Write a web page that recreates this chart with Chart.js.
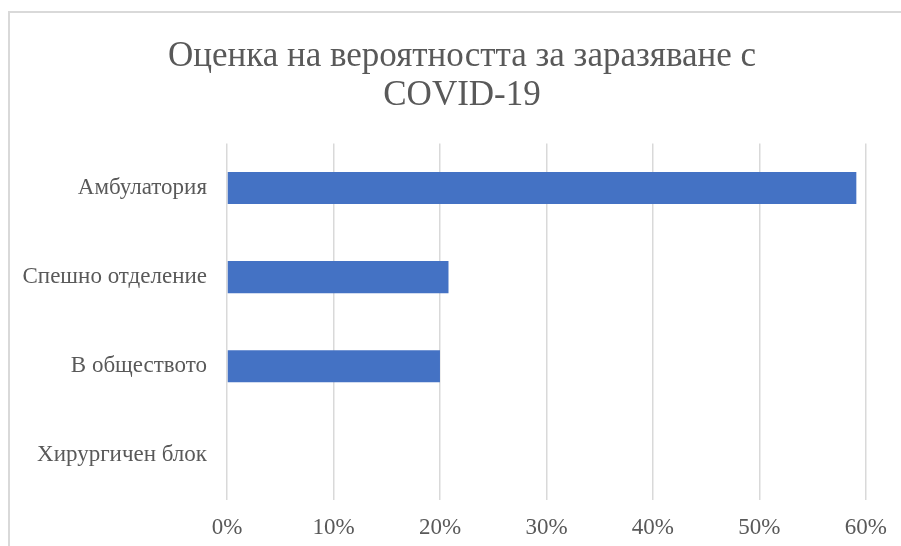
<!DOCTYPE html>
<html>
<head>
<meta charset="utf-8">
<script src="https://cdn.jsdelivr.net/npm/chart.js@4.4.0/dist/chart.umd.min.js"></script>
<style>
  html, body { margin: 0; padding: 0; background: #fff; }
  #wrap { position: relative; width: 901px; height: 546px; }
  #frame {
    position: absolute; left: 8px; top: 11px; right: 0; bottom: 0;
    border-top: 2px solid #d9d9d9; border-left: 2px solid #d9d9d9;
    pointer-events: none;
  }
  canvas { position: absolute; left: 0; top: 0; }
</style>
</head>
<body>
<div id="wrap">
  <canvas id="chart" width="901" height="546"></canvas>
  <div id="frame"></div>
</div>
<script>
// --- Data ---
const categories = ['Амбулатория', 'Спешно отделение', 'В обществото', 'Хирургичен блок'];
const shares = [59.1, 20.8, 20.0, 0];
const tickValues = [0, 10, 20, 30, 40, 50, 60];
const titleLines = ['Оценка на вероятността за заразяване с', 'COVID-19'];

const textColor = '#595959';
const serif = "'Liberation Serif', 'Times New Roman', serif";

// title sits centred on the whole frame, not on the padded area
const centerTitle = {
    id: 'centerTitle',
    afterLayout(chart) {
        if (chart.titleBlock) chart.titleBlock.left = 57;
    }
};

// --- Chart ---
const ctx = document.getElementById('chart').getContext('2d');
const myChart = new Chart(ctx, {
    type: 'bar',
    data: {
        labels: categories,
        datasets: [{
            data: shares,
            backgroundColor: '#4472C4',
            borderWidth: 0,
            categoryPercentage: 1,
            barPercentage: 0.36
        }]
    },
    plugins: [centerTitle],
    options: {
        indexAxis: 'y',
        responsive: false,
        animation: false,
        layout: { padding: { left: 10, right: 34, top: 22, bottom: 0 } },
        plugins: {
            legend: { display: false },
            tooltip: { enabled: false },
            title: {
                display: true,
                text: titleLines,
                color: textColor,
                font: { family: serif, size: 35, weight: 'normal', lineHeight: 1.12 },
                padding: { top: 15, bottom: 28 }
            }
        },
        scales: {
            x: {
                min: 0,
                max: 60,
                afterBuildTicks: (scale) => { scale.ticks = tickValues.map(v => ({ value: v })); },
                afterFit: (scale) => { scale.height = 46; },
                grid: { color: '#d9d9d9', lineWidth: 1.5, drawTicks: false },
                border: { display: false },
                ticks: {
                    padding: 14,
                    color: textColor,
                    font: { family: serif, size: 23 },
                    callback: (v) => v + '%'
                }
            },
            y: {
                afterFit: (scale) => { scale.width = 217; },
                grid: { display: false, drawTicks: false },
                border: { display: false },
                ticks: {
                    padding: 20,
                    color: textColor,
                    font: { family: serif, size: 23 }
                }
            }
        }
    }
});
</script>
</body>
</html>
